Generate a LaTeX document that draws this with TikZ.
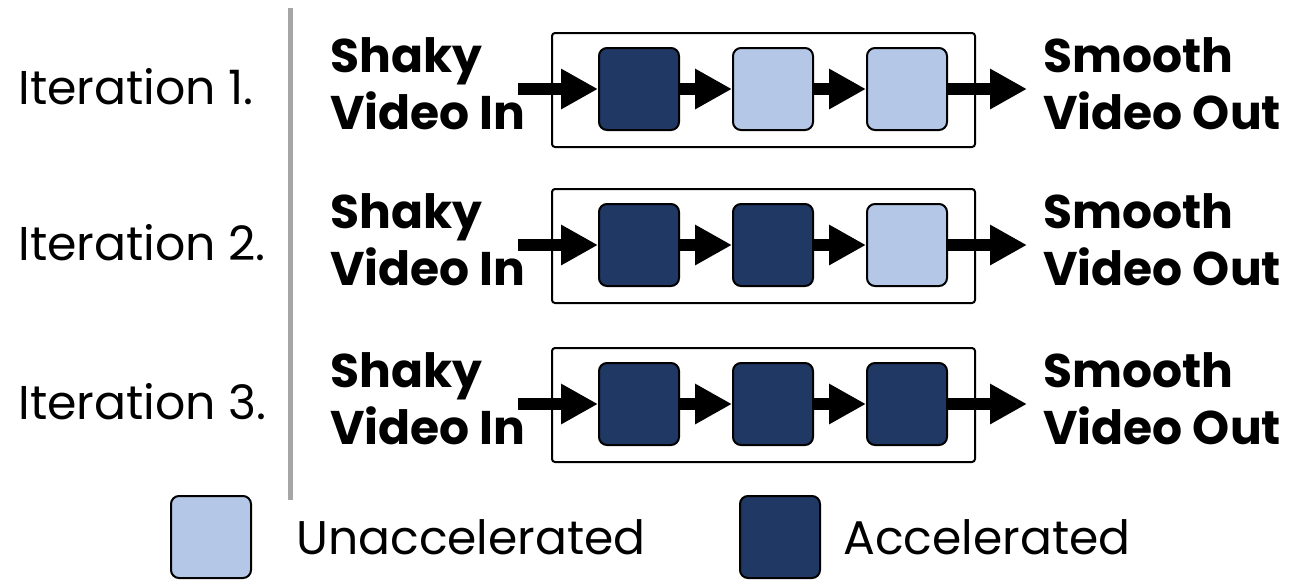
\documentclass[tikz,border=0pt]{standalone}
\usepackage{fontspec}
\setmainfont{Poppins}
\usetikzlibrary{positioning}
\usetikzlibrary{arrows.meta}
\definecolor{accel}{HTML}{203864}
\definecolor{unaccel}{HTML}{B4C7E7}
\definecolor{divider}{HTML}{A6A6A6}

\begin{document}
\begin{tikzpicture}[
  x=0.5pt, y=-0.5pt,
  stage/.style = {draw, line width=1pt, rounded corners=4pt,
    minimum width=40pt, minimum height=41pt, inner sep=0pt},
  frame/.style = {draw, line width=1pt, rounded corners=1.5pt,
    minimum width=211.5pt, minimum height=57pt, inner sep=0pt},
  flow/.style = {line width=6pt, -{Triangle[width=19pt, length=18.5pt]}},
  iotext/.style = {font=\fontsize{23.6}{28.5}\selectfont\bfseries,
    align=left, anchor=west, inner sep=0pt},
  iter/.style = {font=\fontsize{23.7}{30}\selectfont, anchor=west, inner sep=0pt},
  keytext/.style = {font=\fontsize{23.6}{30}\selectfont, inner sep=0pt},
]
  \useasboundingbox (0,0) rectangle (1291,580);

  % divider
  \coordinate (dtop) at (290,8);
  \coordinate (dbot) at (290,500);
  \draw[divider, line width=2.5pt] (dtop) -- (dbot);

  % one pipeline per iteration
  \foreach \r/\y/\fa/\fb/\fc in {1/89/accel/unaccel/unaccel,
                                 2/245/accel/accel/unaccel,
                                 3/404/accel/accel/accel} {
    \node[iter] (it\r) at (18,\y-2) {Iteration \r.};
    \node[frame] (box\r) at (763.5,\y+1) {};
    \node[stage, fill=\fa] (a\r) at (639,\y) {};
    \node[stage, fill=\fb] (b\r) at (773,\y) {};
    \node[stage, fill=\fc] (c\r) at (907,\y) {};
    \coordinate (in\r) at (518,\y);
    \coordinate (out\r) at (1027,\y);
    \node[iotext] (shaky\r) at (330,\y-5) {Shaky\\Video In};
    \node[iotext] (smooth\r) at (1043,\y-5) {Smooth\\Video Out};
    \draw[flow] (in\r) -- (a\r);
    \draw[flow] (a\r) -- (b\r);
    \draw[flow] (b\r) -- (c\r);
    \draw[flow] (c\r) -- (out\r);
  }

  % legend
  \node[stage, fill=unaccel] (kunacc) at (211,537) {};
  \node[keytext, right=22pt of kunacc] (tunacc) {Unaccelerated};
  \node[stage, fill=accel] (kacc) at (780,537) {};
  \node[keytext, right=11pt of kacc] (tacc) {Accelerated};

\end{tikzpicture}
\end{document}
